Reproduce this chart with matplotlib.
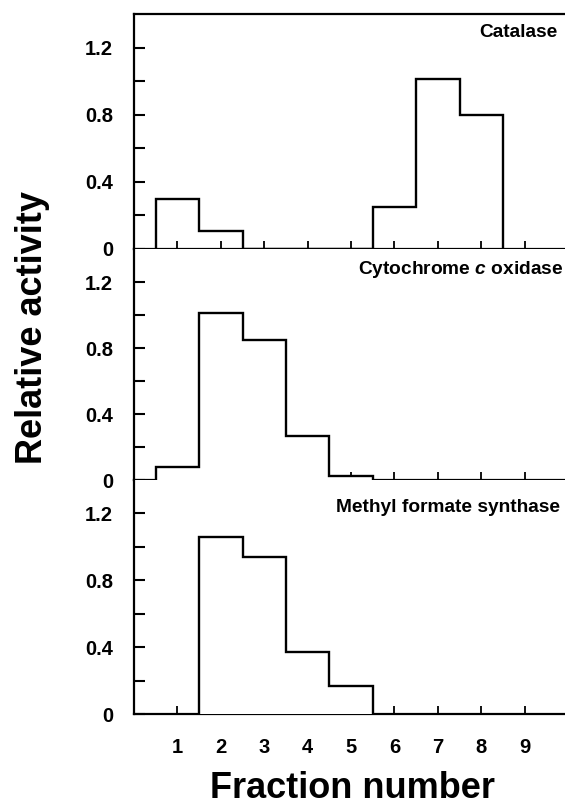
import matplotlib
matplotlib.use("Agg")
import matplotlib.pyplot as plt

plt.rcParams['font.family'] = ['Liberation Sans', 'DejaVu Sans']
plt.rcParams['font.weight'] = 'bold'
plt.rcParams['mathtext.fontset'] = 'custom'
plt.rcParams['mathtext.rm'] = 'Liberation Sans:bold'
plt.rcParams['mathtext.it'] = 'Liberation Sans:italic:bold'

fractions = [1, 2, 3, 4, 5, 6, 7, 8, 9]
catalase = [0.30, 0.11, 0, 0, 0, 0.25, 1.01, 0.80, 0]
cytochrome = [0.08, 1.01, 0.85, 0.265, 0.025, 0, 0, 0, 0]
methyl = [0, 1.06, 0.94, 0.37, 0.17, 0, 0, 0, 0]
titles = ["Catalase", "Cytochrome $c$ oxidase", "Methyl formate synthase"]
ytick_vals = [0, 0.4, 0.8, 1.2]
ytick_labels = ["0", "0.4", "0.8", "1.2"]
yminor_vals = [0.2, 0.6, 1.0]
xtick_labels = ["1", "2", "3", "4", "5", "6", "7", "8", "9"]

W, H = 565, 808
fig = plt.figure(figsize=(W / 100, H / 100), dpi=100)

left = 134 / W
width = 434 / W
panels = [(14, 249), (249, 480), (480, 714)]
title_pos = [(558, 37), (563, 274), (560, 512)]
series = [catalase, cytochrome, methyl]

for i, ((top, bot), vals) in enumerate(zip(panels, series)):
    ax = fig.add_axes([left, 1 - bot / H, width, (bot - top) / H])
    ax.set_xlim(0, 10)
    ax.set_ylim(0, 1.4)
    # trim trailing/leading zeros for the outline extent
    idx = [k for k, v in enumerate(vals) if v > 0]
    a, b = idx[0], idx[-1] + 1
    edges = [f - 0.5 for f in fractions[a:b]] + [fractions[b - 1] + 0.5]
    if i > 0:
        ax.stairs(vals[a:b], edges, baseline=0, fill=True, color='white',
                  zorder=3)
    ax.stairs(vals[a:b], edges, baseline=0, color='black', linewidth=1.7,
              zorder=4)
    ax.spines['right'].set_visible(False)
    if i > 0:
        ax.spines['top'].set_visible(False)
    for s in ['left', 'bottom', 'top']:
        ax.spines[s].set_linewidth(1.6)
    ax.set_yticks(ytick_vals, labels=ytick_labels)
    ax.set_yticks(yminor_vals, minor=True)
    ax.tick_params(axis='y', which='both', direction='in', length=8, width=1.5,
                   pad=15, labelsize=14.5)
    ax.set_xticks(fractions)
    ax.tick_params(axis='x', which='both', direction='in', length=5.5, width=1.3,
                   pad=17, labelsize=14.5)
    if i < 2:
        ax.set_xticklabels([])
    else:
        ax.set_xticklabels(xtick_labels)
    for lab in ax.get_xticklabels() + ax.get_yticklabels():
        lab.set_fontweight('bold')
    tx, ty = title_pos[i]
    fig.text(tx / W, 1 - ty / H, titles[i], ha='right', va='baseline',
             fontsize=13.8, fontweight='bold')

fig.text(33 / W, 1 - 328 / H, "Relative activity", rotation=90, ha='center',
         va='center', fontsize=26, fontweight='bold')
fig.text(353 / W, 1.5 / H, "Fraction number", ha='center', va='bottom',
         fontsize=26, fontweight='bold')

fig.savefig("out.png", dpi=100)
